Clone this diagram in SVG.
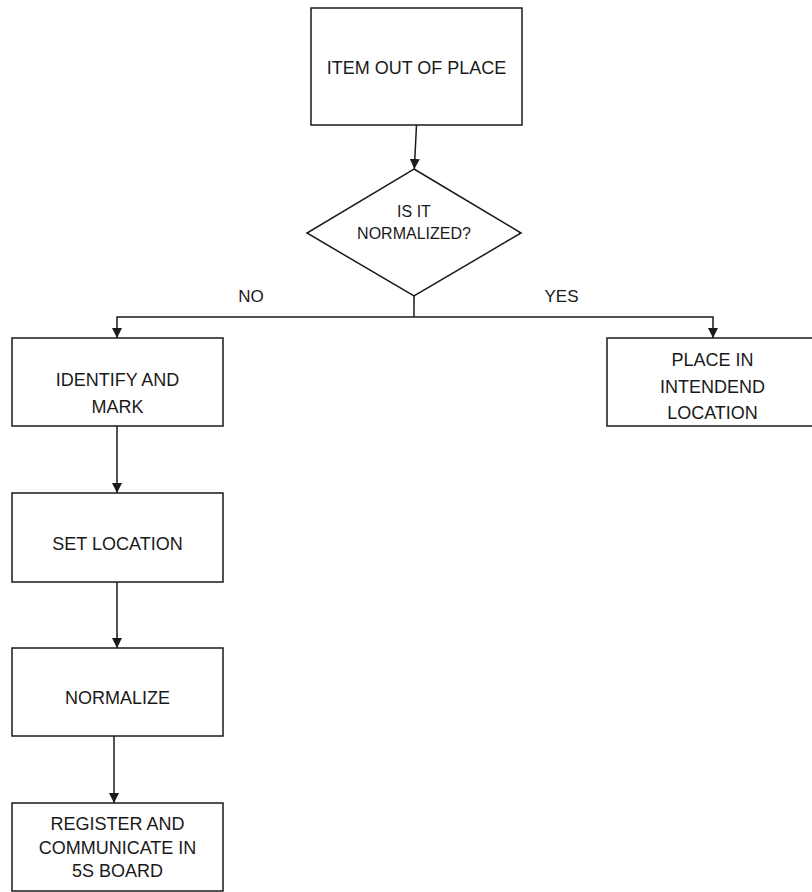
<svg xmlns="http://www.w3.org/2000/svg" width="812" height="892" viewBox="0 0 812 892">
  <style>
    .box { fill: #ffffff; stroke: #1a1a1a; stroke-width: 1.5; }
    .lbl { font-family: "Liberation Sans", Arial, sans-serif; font-size: 18px; fill: #1a1a1a; text-anchor: middle; }
    .sm { font-size: 16px; }
    .conn { fill: none; stroke: #1a1a1a; stroke-width: 1.5; }
  </style>
  <defs>
    <marker id="arr" markerUnits="userSpaceOnUse" markerWidth="10" markerHeight="10" viewBox="0 0 10 10" refX="10" refY="5" orient="auto">
      <path d="M0,0 L10,5 L0,10 Z" fill="#1a1a1a"/>
    </marker>
  </defs>
  <rect width="812" height="892" fill="#ffffff"/>

  <g id="connectors">
    <line class="conn" x1="416.5" y1="125" x2="414.3" y2="169" marker-end="url(#arr)"/>
    <polyline class="conn" points="414,296 414,317"/>
    <polyline class="conn" points="414,317 117,317 117,338" marker-end="url(#arr)"/>
    <polyline class="conn" points="414,317 713,317 713,338" marker-end="url(#arr)"/>
    <line class="conn" x1="117" y1="426" x2="117" y2="493" marker-end="url(#arr)"/>
    <line class="conn" x1="117" y1="582" x2="117" y2="648" marker-end="url(#arr)"/>
    <line class="conn" x1="114" y1="736" x2="114" y2="803" marker-end="url(#arr)"/>
    <text class="lbl" x="251" y="302" style="font-size:17px">NO</text>
    <text class="lbl" x="561.5" y="302" style="font-size:17px">YES</text>
  </g>

  <g id="item-out-of-place">
    <rect class="box" x="311" y="8" width="211" height="117"/>
    <text class="lbl" x="416.5" y="73.5">ITEM OUT OF PLACE</text>
  </g>

  <g id="is-it-normalized">
    <polygon class="box" points="414,169 521,233 414,296 307,233"/>
    <text class="lbl sm" x="414" y="217">IS IT</text>
    <text class="lbl sm" x="414" y="239">NORMALIZED?</text>
  </g>

  <g id="identify-and-mark">
    <rect class="box" x="12" y="338" width="211" height="88"/>
    <text class="lbl" x="117.5" y="385.5">IDENTIFY AND</text>
    <text class="lbl" x="117.5" y="412.5">MARK</text>
  </g>

  <g id="place-in-intended-location">
    <rect class="box" x="607" y="338" width="211" height="88"/>
    <text class="lbl" x="712.5" y="365.5">PLACE IN</text>
    <text class="lbl" x="712.5" y="392.5">INTENDEND</text>
    <text class="lbl" x="712.5" y="418.5">LOCATION</text>
  </g>

  <g id="set-location">
    <rect class="box" x="12" y="493" width="211" height="89"/>
    <text class="lbl" x="117.5" y="549.5">SET LOCATION</text>
  </g>

  <g id="normalize">
    <rect class="box" x="12" y="648" width="211" height="88"/>
    <text class="lbl" x="117.5" y="703.5">NORMALIZE</text>
  </g>

  <g id="register-and-communicate">
    <rect class="box" x="12" y="803" width="211" height="88"/>
    <text class="lbl" x="117.5" y="829.5">REGISTER AND</text>
    <text class="lbl" x="117.5" y="853.5">COMMUNICATE IN</text>
    <text class="lbl" x="117.5" y="876.5">5S BOARD</text>
  </g>
</svg>
